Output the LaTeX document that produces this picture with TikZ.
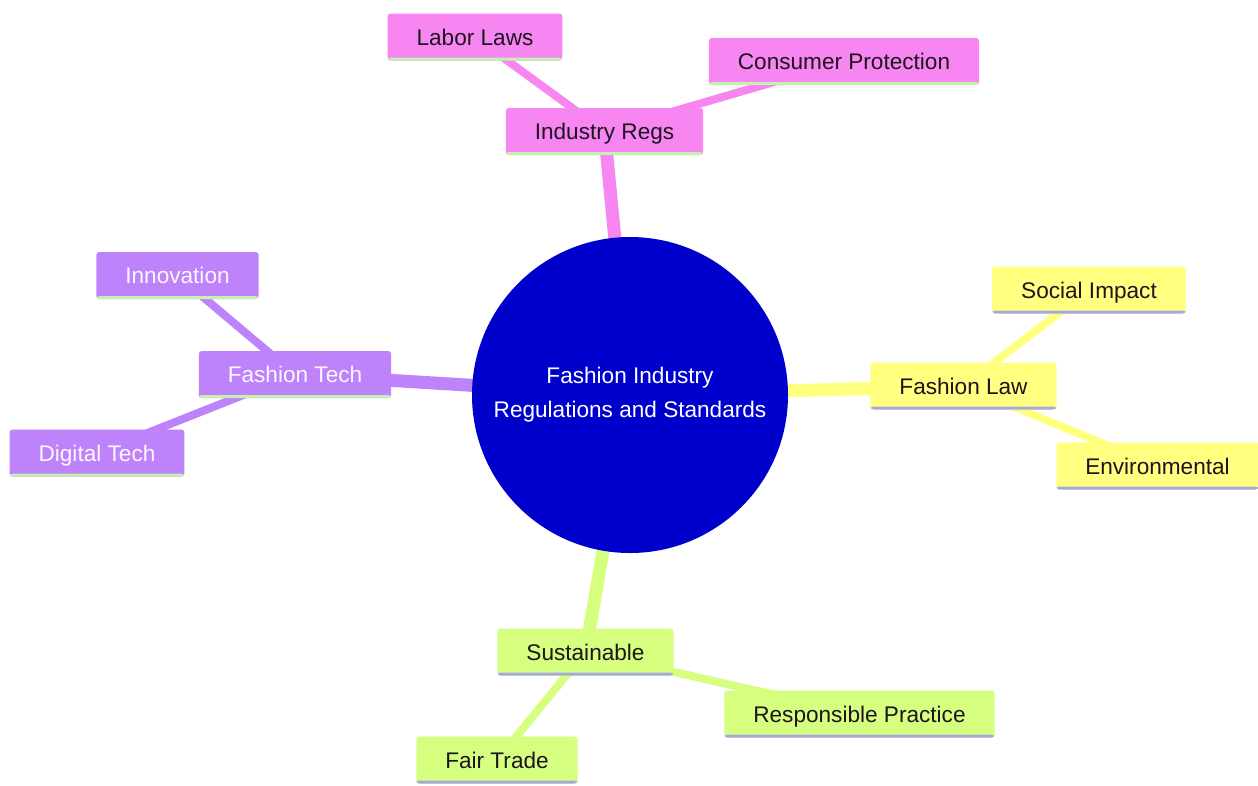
\documentclass[tikz,border=0pt]{standalone}
\usepackage{fontspec}
\setmainfont{Liberation Sans}
\usetikzlibrary{backgrounds}
\definecolor{pinkc}{RGB}{247,133,242}
\definecolor{purpc}{RGB}{190,130,250}
\definecolor{yelc}{RGB}{255,255,128}
\definecolor{grnc}{RGB}{214,255,128}
\definecolor{ulgreen}{RGB}{196,240,176}
\definecolor{ullav}{RGB}{168,168,222}
\definecolor{centc}{RGB}{0,0,205}
\definecolor{darktxt}{RGB}{30,20,30}
\tikzset{
  x=1pt,y=-1pt,
  leafbox/.style={rounded corners=3pt, minimum height=47pt, inner xsep=29pt, inner ysep=0pt,
     text depth=0pt, font=\fontsize{22.6}{27}\selectfont, text=darktxt},
  pinkbox/.style={leafbox, fill=pinkc, path picture={\fill[ulgreen] ([yshift=3pt]path picture bounding box.south west) rectangle (path picture bounding box.south east);}},
  purpbox/.style={leafbox, fill=purpc, text=white!94!purpc, path picture={\fill[ulgreen] ([yshift=3pt]path picture bounding box.south west) rectangle (path picture bounding box.south east);}},
  yelbox/.style={leafbox, fill=yelc, path picture={\fill[ullav] ([yshift=3pt]path picture bounding box.south west) rectangle (path picture bounding box.south east);}},
  grnbox/.style={leafbox, fill=grnc, path picture={\fill[ullav] ([yshift=3pt]path picture bounding box.south west) rectangle (path picture bounding box.south east);}},
  mainlink/.style={line width=13pt},
  leaflink/.style={line width=8pt},
}
\begin{document}
\begin{tikzpicture}
\useasboundingbox (0,0) rectangle (1258,785);
\node[circle, fill=centc, minimum size=316pt, inner sep=0pt, text=white, align=center,
  font=\fontsize{22.6}{34}\selectfont] (root) at (630,395) {Fashion Industry\\Regulations and Standards};

\node[pinkbox] (ir) at (604.5,131.5) {Industry Regs};
\node[pinkbox] (ll) at (475,37) {Labor Laws};
\node[pinkbox] (cp) at (844,61.5) {Consumer Protection};

\node[purpbox] (ft) at (295,374.5) {Fashion Tech};
\node[purpbox] (in) at (177.5,275.5) {Innovation};
\node[purpbox] (dt) at (97,453) {Digital Tech};

\node[yelbox] (fl) at (963.5,386) {Fashion Law};
\node[yelbox] (si) at (1089,290) {Social Impact};
\node[yelbox] (en) at (1157.5,466) {Environmental};

\node[grnbox] (su) at (585.5,652) {Sustainable};
\node[grnbox] (rp) at (859.5,714) {Responsible Practice};
\node[grnbox] (fr) at (497,760) {Fair Trade};

\begin{scope}[on background layer]
\fill[white] (0,0) rectangle (1258,785);
\draw[mainlink, pinkc] (root.center) -- (ir.center);
\draw[leaflink, pinkc] (ir.center) -- (ll.center);
\draw[leaflink, pinkc] (ir.center) -- (cp.center);
\draw[mainlink, purpc] (root.center) -- (ft.center);
\draw[leaflink, purpc] (ft.center) -- (in.center);
\draw[leaflink, purpc] (ft.center) -- (dt.center);
\draw[mainlink, yelc] (root.center) -- (fl.center);
\draw[leaflink, yelc] (fl.center) -- (si.center);
\draw[leaflink, yelc] (fl.center) -- (en.center);
\draw[mainlink, grnc] (root.center) -- (su.center);
\draw[leaflink, grnc] (su.center) -- (rp.center);
\draw[leaflink, grnc] (su.center) -- (fr.center);
\end{scope}
\end{tikzpicture}
\end{document}
